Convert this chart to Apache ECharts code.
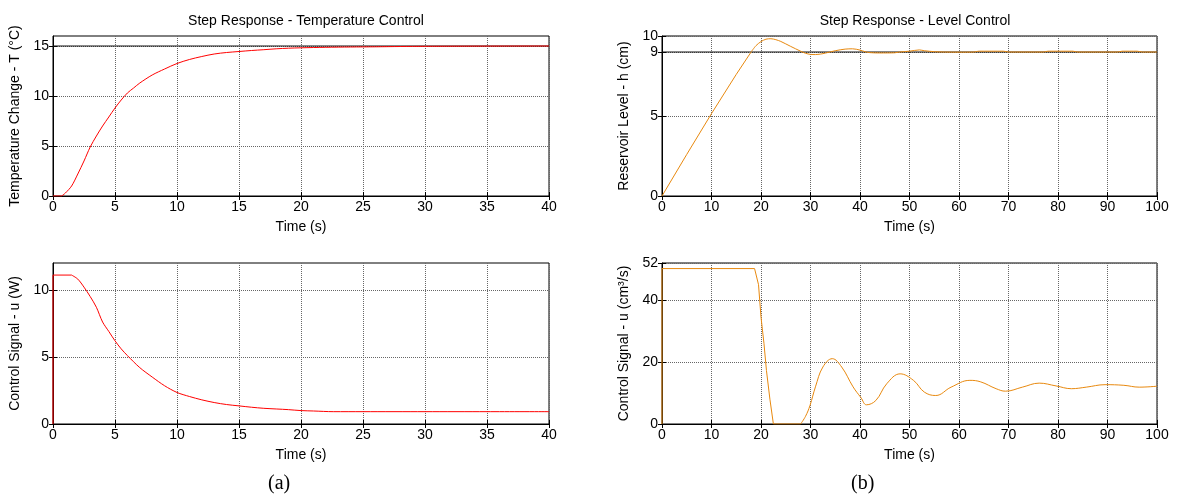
<!DOCTYPE html>
<html lang="en">
<head>
<meta charset="UTF-8">
<title>Step Response</title>
<script src="https://cdn.jsdelivr.net/npm/echarts@6/dist/echarts.min.js"></script>
<style>
  html, body { margin: 0; padding: 0; background: #fff; }
  #container { width: 1179px; height: 495px; }
</style>
</head>
<body>
<div id="container"></div>
<script>
// (a) temperature control: time (s), temperature change (°C)
const tempTime = [0, 0.7, 1, 1.5, 2, 2.5, 3, 3.5, 4, 4.5, 5, 5.5, 6, 6.5, 7, 8, 9, 10, 11, 12, 13, 14, 15, 16, 17, 18, 19, 20, 22, 24, 26, 28, 30, 35, 40];
const tempValue = [0, 0, 0.3, 1.0, 2.2, 3.5, 4.9, 6.0, 7.0, 7.9, 8.8, 9.6, 10.3, 10.8, 11.3, 12.1, 12.7, 13.25, 13.65, 13.95, 14.2, 14.35, 14.45, 14.55, 14.63, 14.72, 14.78, 14.82, 14.87, 14.9, 14.92, 14.95, 14.97, 14.99, 15];
const tempSetpoint = 15;

// (a) control signal (W)
const heatTime = [0, 0, 1.5, 2, 2.5, 3, 3.5, 4, 4.5, 5, 5.5, 6, 7, 8, 9, 10, 11, 12, 13, 14, 15, 16, 17, 18, 19, 20, 21, 22.6, 25, 30, 35, 40];
const heatValue = [0, 11.1, 11.1, 10.8, 10.2, 9.5, 8.7, 7.6, 6.9, 6.2, 5.6, 5.1, 4.2, 3.5, 2.85, 2.35, 2.05, 1.8, 1.6, 1.45, 1.35, 1.25, 1.17, 1.12, 1.07, 1.0, 0.97, 0.92, 0.92, 0.92, 0.92, 0.92];

// (b) level control: time (s), reservoir level (cm)
const levelTime = [0, 5, 10, 15, 18, 19, 20, 21, 22, 23, 24, 26, 28, 29, 30, 31, 32, 33, 35, 37, 38.5, 40, 41, 42, 44, 47, 48, 50, 52, 53, 55, 57, 60, 63, 64, 69, 70, 77, 78, 83, 84, 92, 93, 96, 97, 100];
const levelValue = [0, 2.6, 5.15, 7.6, 9.0, 9.4, 9.65, 9.8, 9.83, 9.77, 9.66, 9.35, 9.05, 8.92, 8.85, 8.84, 8.87, 8.93, 9.08, 9.18, 9.2, 9.12, 9.02, 8.96, 8.94, 8.95, 9.0, 9.05, 9.13, 9.08, 9.02, 9.0, 8.99, 9.0, 9.05, 9.05, 9.0, 9.0, 9.05, 9.05, 9.0, 9.0, 9.05, 9.05, 9.0, 9.0];
const levelSetpoint = 9;

// (b) control signal (cm3/s)
const flowTime = [0, 0, 18.7, 19.5, 20, 20.6, 21.1, 21.8, 22.5, 28, 29, 29.9, 31, 32.5, 34.4, 36.3, 38.6, 40.2, 41.3, 43.2, 45.4, 48.1, 50.8, 53, 55.3, 58.4, 62.2, 64.4, 67.5, 69.4, 72.8, 76.2, 79.6, 82.7, 85.7, 89.5, 93.3, 96.4, 100];
const flowValue = [0, 50.2, 50.2, 45, 34.5, 26, 17.3, 8, 0, 0, 2.5, 6, 12, 18.4, 21.1, 18.4, 12, 8.5, 6.2, 7.6, 13, 16.2, 14.1, 10.3, 9.2, 11.9, 14.1, 13.6, 11.4, 10.6, 11.9, 13.2, 12.3, 11.4, 11.9, 12.7, 12.5, 11.9, 12.2];

const tempTicksY = [0, 5, 10, 15];
const heatTicksY = [0, 5, 10];
const levelTicksY = [0, 5, 9, 10];
const flowTicksY = [0, 20, 40, 52];

const pairs = (xs, ys) => xs.map((x, i) => [x, ys[i]]);

const FONT = 'Liberation Sans';
const FS = 14;
const RED = '#ff0000';
const ORANGE = '#e8890f';

const gridBase = { show: true, borderColor: '#000', borderWidth: 1, backgroundColor: '#fff' };
const txt = { fontFamily: FONT, fontSize: FS, color: '#000' };

const xAxisFor = (gridIndex, max, interval) => ({
  type: 'value', gridIndex, min: 0, max, interval,
  name: 'Time (s)', nameLocation: 'middle', nameGap: 24, nameTextStyle: txt,
  axisLine: { lineStyle: { color: '#000' } },
  axisTick: { inside: true, length: 4, lineStyle: { color: '#000' } },
  axisLabel: Object.assign({ margin: 4 }, txt),
  splitLine: { show: true, lineStyle: { color: '#666', type: 'dotted', width: 1 } }
});

// mirrored ticks on the top edge (box style)
const xTopFor = (gridIndex, max, interval) => ({
  type: 'value', gridIndex, min: 0, max, interval, position: 'top',
  axisLine: { show: false },
  axisTick: { inside: true, length: 4, lineStyle: { color: '#000' } },
  axisLabel: { show: false }, splitLine: { show: false }
});

const yAxisFor = (gridIndex, max, ticks, name) => ({
  type: 'value', gridIndex, min: 0, max,
  name, nameLocation: 'middle', nameGap: 31, nameTextStyle: txt,
  axisLine: { lineStyle: { color: '#000' } },
  axisTick: { inside: true, length: 4, lineStyle: { color: '#000' }, customValues: ticks },
  axisLabel: Object.assign({ margin: 4, customValues: ticks }, txt),
  splitLine: { show: true, lineStyle: { color: '#666', type: 'dotted', width: 1 } }
});

const yRightFor = (gridIndex, max, ticks) => ({
  type: 'value', gridIndex, min: 0, max, position: 'right',
  axisLine: { show: false },
  axisTick: { show: true, inside: true, length: 4, lineStyle: { color: '#000' }, customValues: ticks },
  axisLabel: { show: false }, splitLine: { show: false }
});

const lineSeries = (xi, yi, data, color, smooth) => ({
  type: 'line', xAxisIndex: xi, yAxisIndex: yi, data,
  showSymbol: false, symbol: 'none', animation: false,
  smooth: smooth || false,
  lineStyle: { color, width: 1 }
});

const tempData = pairs(tempTime, tempValue);
const heatData = pairs(heatTime, heatValue);
const levelData = pairs(levelTime, levelValue);
const flowData = pairs(flowTime, flowValue);

const option = {
  animation: false,
  title: [
    { text: 'Step Response - Temperature Control', left: 301, top: 9, textAlign: 'center',
      textStyle: Object.assign({ fontWeight: 'normal' }, txt) },
    { text: 'Step Response - Level Control', left: 910, top: 9, textAlign: 'center',
      textStyle: Object.assign({ fontWeight: 'normal' }, txt) }
  ],
  grid: [
    Object.assign({ left: 53, top: 36, width: 496, height: 160 }, gridBase),
    Object.assign({ left: 53, top: 263, width: 496, height: 161 }, gridBase),
    Object.assign({ left: 662, top: 36, width: 495, height: 160 }, gridBase),
    Object.assign({ left: 662, top: 263, width: 495, height: 161 }, gridBase)
  ],
  xAxis: [
    xAxisFor(0, 40, 5),
    xAxisFor(1, 40, 5),
    xAxisFor(2, 100, 10),
    xAxisFor(3, 100, 10),
    xTopFor(0, 40, 5),
    xTopFor(1, 40, 5),
    xTopFor(2, 100, 10),
    xTopFor(3, 100, 10)
  ],
  yAxis: [
    yAxisFor(0, 16, tempTicksY, 'Temperature Change - T (°C)'),
    yAxisFor(1, 12, heatTicksY, 'Control Signal - u (W)'),
    yAxisFor(2, 10, levelTicksY, 'Reservoir Level - h (cm)'),
    yAxisFor(3, 52, flowTicksY, 'Control Signal - u (cm³/s)'),
    yRightFor(0, 16, tempTicksY),
    yRightFor(1, 12, heatTicksY),
    yRightFor(2, 10, levelTicksY),
    yRightFor(3, 52, flowTicksY)
  ],
  series: [
    lineSeries(0, 0, [[0, tempSetpoint], [40, tempSetpoint]], '#111'),
    lineSeries(0, 0, tempData.slice(0, 2), RED),
    lineSeries(0, 0, tempData.slice(1), RED, 0.3),
    lineSeries(1, 1, heatData.slice(0, 3), RED),
    lineSeries(1, 1, heatData.slice(2), RED, 0.3),
    lineSeries(2, 2, [[0, levelSetpoint], [100, levelSetpoint]], '#111'),
    lineSeries(2, 2, levelData.slice(0, 5), ORANGE),
    lineSeries(2, 2, levelData.slice(4), ORANGE, 0.3),
    lineSeries(3, 3, flowData.slice(0, 10), ORANGE),
    lineSeries(3, 3, flowData.slice(9), ORANGE, 0.4)
  ],
  graphic: [
    { type: 'text', left: 268, top: 474, style: { text: '(a)', font: '20px "Liberation Serif"', fill: '#000' } },
    { type: 'text', left: 851, top: 474, style: { text: '(b)', font: '20px "Liberation Serif"', fill: '#000' } }
  ]
};

const chart = echarts.init(document.getElementById('container'), null, { renderer: 'canvas' });
chart.setOption(option);
</script>
</body>
</html>
